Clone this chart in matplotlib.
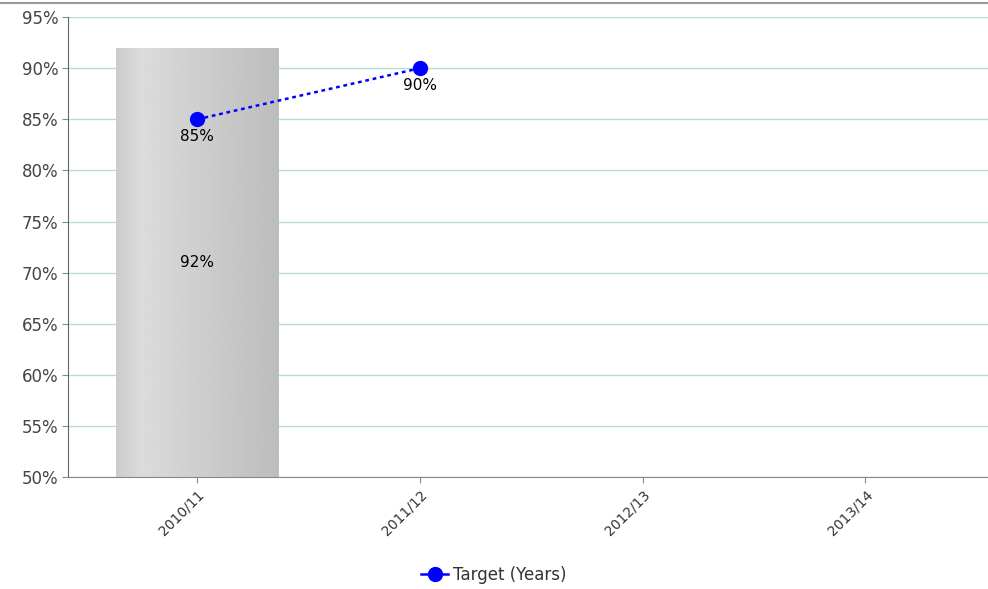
import matplotlib.pyplot as plt
from matplotlib.lines import Line2D
import numpy as np

# data
categories = ["2010/11", "2011/12", "2012/13", "2013/14"]
actual = [92]            # bar (only first year)
target = [85, 90]        # line (Target (Years))

fig = plt.figure(figsize=(9.88, 5.89), dpi=100)
ax = fig.add_axes([0.0688, 0.190, 0.9312, 0.781])

x = np.arange(len(categories))

# bar with gray gradient
bars = ax.bar(x[:len(actual)], actual, width=0.73, color="#d4d4d8", zorder=2, linewidth=0)
grad = np.concatenate([np.linspace(0.80, 0.86, 40), np.linspace(0.86, 0.74, 216)]).reshape(1, -1)
for b in bars:
    bx, bw, bh = b.get_x(), b.get_width(), b.get_height()
    im = ax.imshow(grad, cmap="gray", vmin=0, vmax=1, aspect="auto",
                   extent=[bx, bx + bw, 50, bh], zorder=2.1)
    im.set_clip_path(b)
    ax.text(bx + bw / 2, (50 + bh) / 2, f"{bh}%", ha="center", va="center",
            fontsize=11, color="black", zorder=5)

# target line
ax.plot(x[:len(target)], target, color="#0000ff", linestyle=(0, (1.5, 1.5)), linewidth=1.8,
        marker="o", markersize=10, zorder=4)
for xi, v in zip(x, target):
    ax.annotate(f"{v}%", (xi, v), xytext=(0, -12.5), textcoords="offset points",
                ha="center", va="center", fontsize=11, color="black", zorder=5)

ax.set_xlim(-0.58, 3.55)
ax.set_ylim(50, 95)
ax.set_yticks(range(50, 96, 5))
ax.set_yticklabels([f"{v}%" for v in range(50, 96, 5)], fontsize=12, color="#444444")
ax.set_xticks(x)
ax.set_xticklabels(categories, rotation=45, ha="right", rotation_mode="anchor",
                   fontsize=10, color="#333333")
ax.tick_params(axis="x", length=4, color="#888888")
ax.tick_params(axis="y", length=4, color="#888888", pad=3)

ax.grid(axis="y", color="#b3dcdc", linewidth=1, zorder=0)
ax.set_axisbelow(True)
for s in ["top", "right"]:
    ax.spines[s].set_visible(False)
ax.spines["left"].set_color("#666666")
ax.spines["bottom"].set_color("#888888")

handle = Line2D([], [], color="#0000ff", marker="o", markersize=10, linewidth=1.8)
fig.legend([handle], ["Target (Years)"], loc="lower center", bbox_to_anchor=(0.5, -0.017),
           frameon=False, fontsize=12, handlelength=1.6, handletextpad=0.3, labelcolor="#333333")

# top border line
fig.add_artist(Line2D([0, 1], [0.995, 0.995], color="#999999", linewidth=1.5))

fig.savefig("out.png", dpi=100)
